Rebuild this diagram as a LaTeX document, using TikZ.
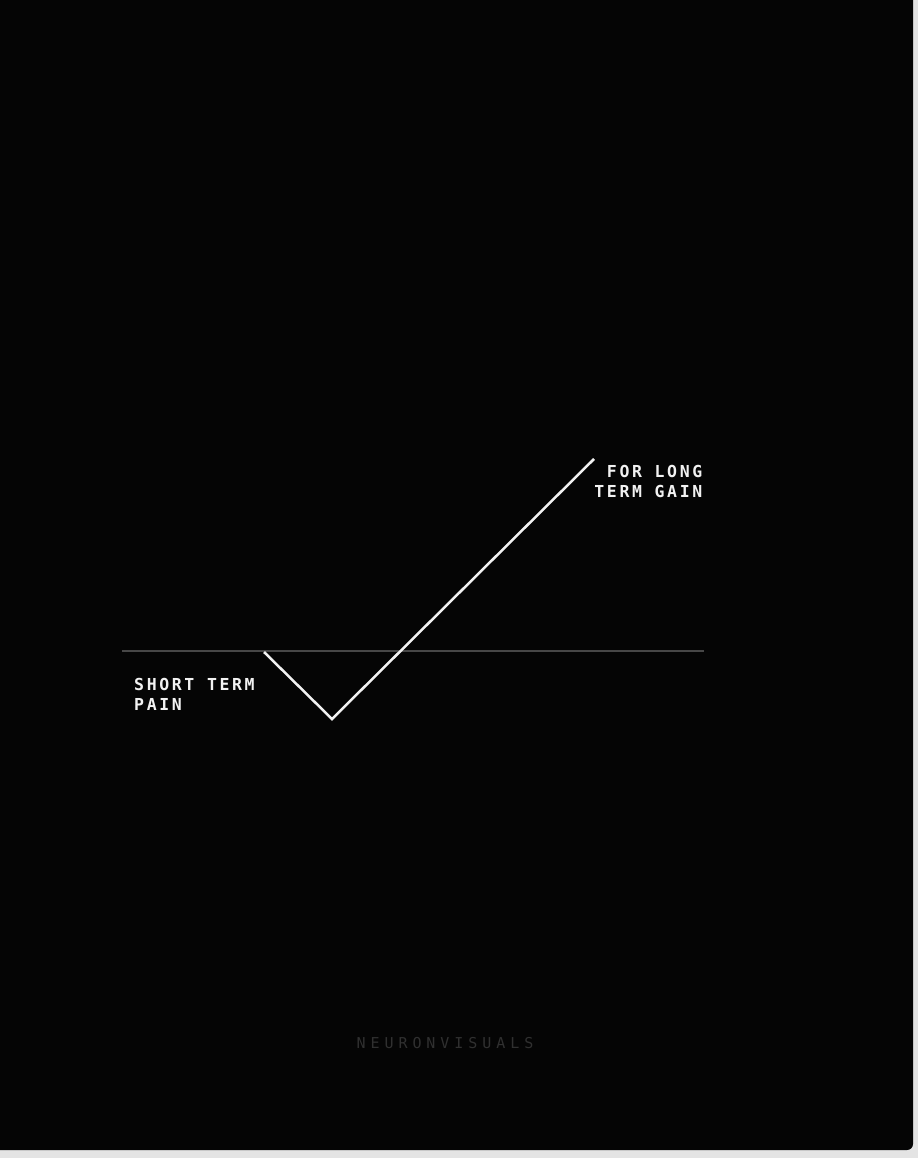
\documentclass[tikz,border=0pt]{standalone}
\usepackage{fontspec}
\newfontfamily\labelfont[LetterSpace=16]{DejaVu Sans Mono Bold}
\newfontfamily\markfont[LetterSpace=33]{DejaVu Sans Mono}
\definecolor{bgblack}{HTML}{050505}
\definecolor{axisgray}{HTML}{474747}
\definecolor{linewhite}{HTML}{F2F2F2}
\definecolor{markgray}{HTML}{303030}
\definecolor{edgegray}{HTML}{E4E4E4}
\tikzset{
  lbl/.style={text=linewhite, font=\labelfont\fontsize{16.5}{20.5}\selectfont, inner sep=0pt, align=#1},
  lbl/.default=left
}
\begin{document}
\begin{tikzpicture}[x=1pt,y=-1pt]
\useasboundingbox (0,0) rectangle (918,1158);
\fill[edgegray] (0,0) rectangle (918,1158);
\fill[bgblack] (0,0) -- (913,0) -- (913,1144) arc[start angle=0,end angle=90,radius=6] -- (0,1150) -- cycle;
\coordinate (axL) at (122,651);
\coordinate (axR) at (704,651);
\draw[axisgray, line width=2.5pt] (axL) -- (axR);
\coordinate (p0) at (264,652);
\coordinate (p1) at (332,719);
\coordinate (p2) at (594,459);
\draw[linewhite, line width=2.5pt, line join=miter] (p0) -- (p1) -- (p2);
\node[lbl=right, anchor=north east] (gain) at (702.5,465) {FOR LONG\\TERM GAIN};
\node[lbl=left, anchor=north west] (pain) at (134,678) {SHORT TERM\\PAIN};
\node[text=markgray, font=\markfont\fontsize{15}{18}\selectfont, inner sep=0pt] (mark) at (445,1043.5) {NEURONVISUALS};
\end{tikzpicture}
\end{document}
